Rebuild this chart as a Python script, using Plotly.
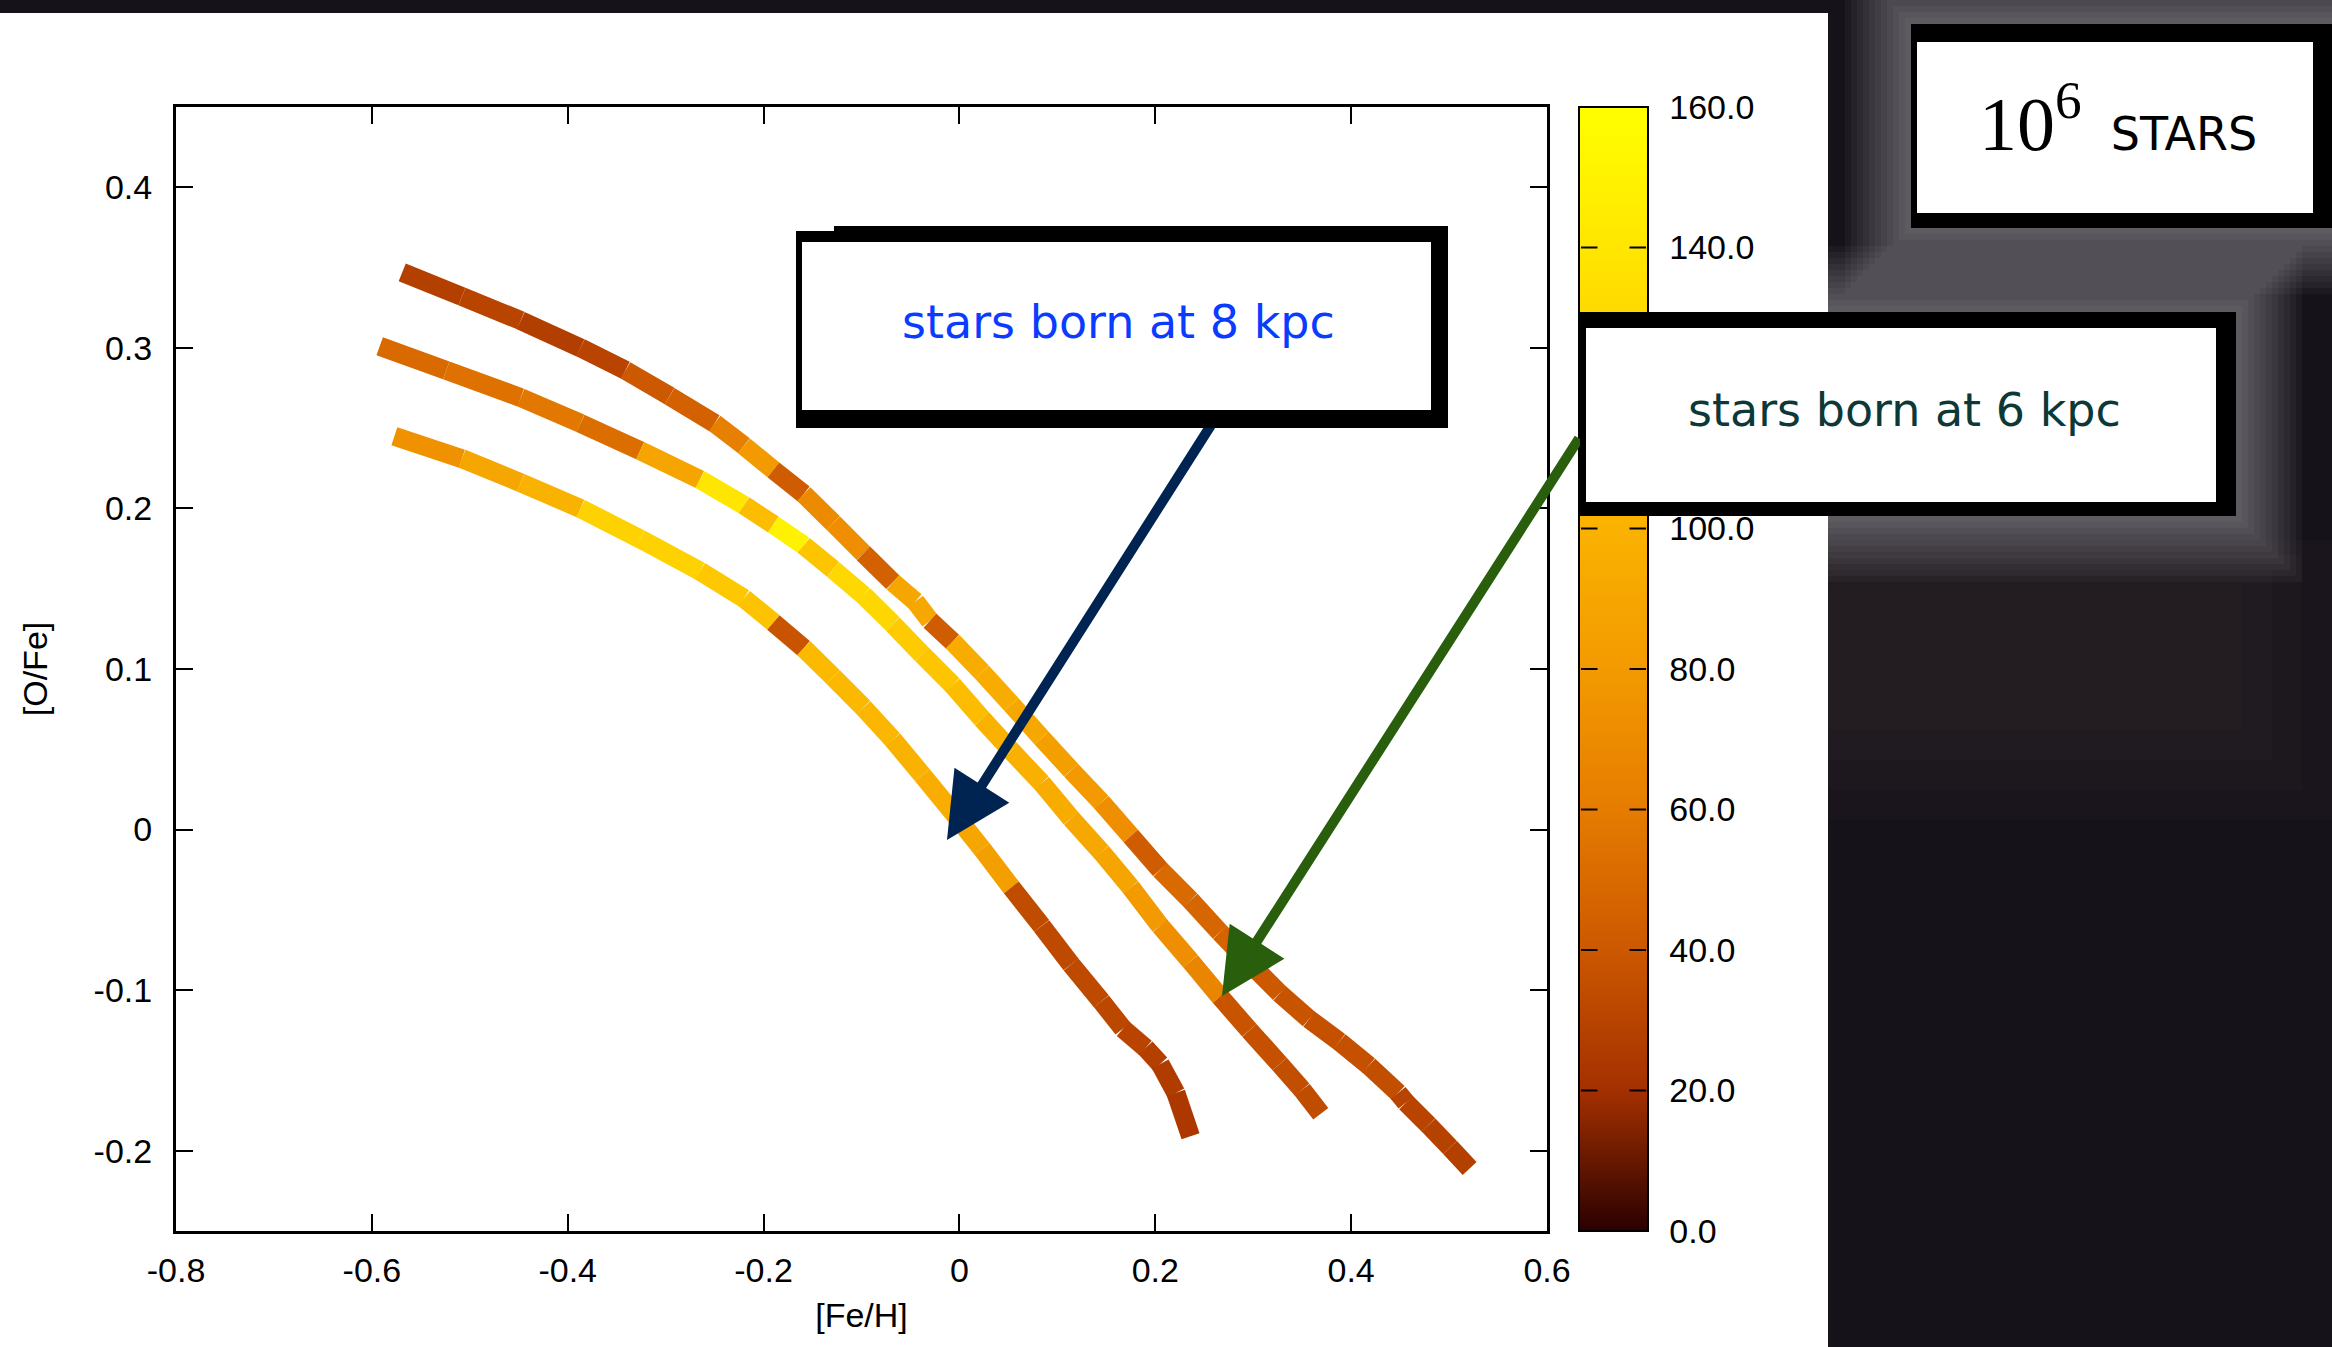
import plotly.graph_objects as go
from plotly.colors import sample_colorscale

# ---------------- data ----------------
top_feh = [-0.569, -0.508, -0.448, -0.387, -0.341, -0.296, -0.250, -0.220, -0.190, -0.159,
           -0.129, -0.098, -0.068, -0.045, -0.030, -0.007, 0.023, 0.053, 0.084, 0.114,
           0.145, 0.175, 0.205, 0.236, 0.266, 0.296, 0.327, 0.357, 0.388, 0.418,
           0.448, 0.456, 0.479, 0.501, 0.521]
top_ofe = [0.347, 0.332, 0.317, 0.300, 0.286, 0.270, 0.253, 0.239, 0.224, 0.209,
           0.191, 0.172, 0.154, 0.142, 0.130, 0.117, 0.098, 0.078, 0.057, 0.037,
           0.017, -0.004, -0.025, -0.044, -0.064, -0.083, -0.102, -0.118, -0.132, -0.147,
           -0.164, -0.170, -0.184, -0.198, -0.211]
top_val = [28, 30, 27, 30, 40, 45, 62, 80, 42, 70,
           72, 45, 90, 92, 42, 95, 95, 92, 84, 80,
           72, 42, 50, 48, 46, 40, 38, 36, 36, 35,
           30, 30, 29, 28, 28]

mid_feh = [-0.592, -0.524, -0.448, -0.387, -0.326, -0.265, -0.220, -0.190, -0.159, -0.129,
           -0.098, -0.068, -0.038, -0.007, 0.023, 0.053, 0.084, 0.114, 0.145, 0.175,
           0.205, 0.236, 0.266, 0.296, 0.327, 0.350, 0.369]
mid_ofe = [0.301, 0.286, 0.269, 0.253, 0.236, 0.218, 0.202, 0.190, 0.177, 0.162,
           0.146, 0.128, 0.109, 0.090, 0.069, 0.049, 0.029, 0.007, -0.014, -0.036,
           -0.060, -0.082, -0.104, -0.125, -0.146, -0.162, -0.177]
mid_val = [50, 54, 58, 52, 88, 140, 108, 150, 115, 130,
           128, 120, 115, 108, 100, 98, 95, 92, 88, 80,
           72, 66, 38, 36, 35, 34, 34]

bot_feh = [-0.577, -0.508, -0.448, -0.387, -0.326, -0.265, -0.220, -0.190, -0.159, -0.129,
           -0.098, -0.068, -0.038, -0.007, 0.023, 0.053, 0.084, 0.114, 0.145, 0.167,
           0.190, 0.205, 0.221, 0.236]
bot_ofe = [0.245, 0.231, 0.216, 0.200, 0.181, 0.161, 0.144, 0.129, 0.113, 0.095,
           0.076, 0.056, 0.034, 0.011, -0.012, -0.036, -0.060, -0.084, -0.107, -0.124,
           -0.136, -0.146, -0.164, -0.191]
bot_val = [75, 90, 100, 125, 125, 118, 114, 38, 106, 105,
           104, 100, 96, 90, 84, 34, 33, 33, 32, 30,
           28, 26, 24, 22]

x_ticks = [-0.8, -0.6, -0.4, -0.2, 0.0, 0.2, 0.4, 0.6]
x_ticklabels = ["-0.8", "-0.6", "-0.4", "-0.2", "0", "0.2", "0.4", "0.6"]
y_ticks = [-0.2, -0.1, 0.0, 0.1, 0.2, 0.3, 0.4]
y_ticklabels = ["-0.2", "-0.1", "0", "0.1", "0.2", "0.3", "0.4"]
cb_ticks = [0, 20, 40, 60, 80, 100, 120, 140, 160]
cb_ticklabels = ["0.0", "20.0", "40.0", "60.0", "80.0", "100.0", "120.0", "140.0", "160.0"]
VMIN, VMAX = 0, 160

label_8kpc = "stars born at 8 kpc"
label_6kpc = "stars born at 6 kpc"
label_stars = '<span style="font-family:Liberation Serif;font-size:76px">10<sup>6</sup></span>\u00a0\u00a0STARS'

# ---------------- layout helpers ----------------
W, H = 2332, 1347
ML, MR, MT, MB = 176, 785, 107, 116
PW = W - ML - MR
PH = H - MT - MB


def px(xp):
    return (xp - ML) / PW


def py(yp):
    return (H - MB - yp) / PH


CS = [[0.0, '#2a0000'], [0.125, '#a43000'], [0.25, '#cc5800'], [0.375, '#e67c00'],
      [0.5, '#f39a00'], [0.625, '#fab200'], [0.75, '#fecb00'], [0.875, '#ffe600'],
      [1.0, '#ffff00']]

TICKFONT = dict(family='Liberation Sans, Arial, sans-serif', size=34, color='black')

fig = go.Figure()

# colored segments
for xs, ys, vs in [(top_feh, top_ofe, top_val), (mid_feh, mid_ofe, mid_val), (bot_feh, bot_ofe, bot_val)]:
    cols = sample_colorscale(CS, [(v - VMIN) / (VMAX - VMIN) for v in vs])
    for i in range(len(xs) - 1):
        fig.add_trace(go.Scatter(x=[xs[i], xs[i + 1]], y=[ys[i], ys[i + 1]], mode='lines',
                                 line=dict(color=cols[i], width=19), showlegend=False,
                                 hoverinfo='skip'))

# invisible trace carrying the colorbar
fig.add_trace(go.Scatter(
    x=top_feh + mid_feh + bot_feh, y=top_ofe + mid_ofe + bot_ofe, mode='markers',
    marker=dict(size=1, opacity=0, color=top_val + mid_val + bot_val, colorscale=CS,
                cmin=VMIN, cmax=VMAX, showscale=True,
                colorbar=dict(x=px(1579), xanchor='left', y=0.5, yanchor='middle', len=1,
                              lenmode='fraction', thickness=69, thicknessmode='pixels',
                              xpad=0, ypad=0, outlinewidth=2, outlinecolor='black',
                              tickvals=cb_ticks, ticktext=cb_ticklabels, ticks='outside',
                              ticklen=14, tickwidth=1, tickcolor='rgba(0,0,0,0)',
                              tickfont=TICKFONT)),
    showlegend=False, hoverinfo='skip'))

shapes = []
# white page region
shapes.append(dict(type='rect', xref='paper', yref='paper', x0=px(0), x1=px(1828),
                   y0=py(1347), y1=py(13), fillcolor='white', line=dict(width=0), layer='below'))
# subtle nebula tone
for d in [0, 30, 60, 90]:
    shapes.append(dict(type='rect', xref='paper', yref='paper', x0=px(1828), x1=px(2332 - d),
                       y0=py(820 - d), y1=py(540 + d // 2), fillcolor='rgba(120,100,105,0.04)',
                       line=dict(width=0), layer='below'))
# soft glows around boxes in dark region
for (bx0, by0, bx1, by1) in [(1911, 24, 2340, 228), (1580, 312, 2236, 516)]:
    for d in range(66, 0, -6):
        shapes.append(dict(type='rect', xref='paper', yref='paper', x0=px(bx0 - d), x1=px(bx1 + d),
                           y0=py(by1 + d), y1=py(by0 - d), fillcolor='rgba(255,255,255,0.035)',
                           line=dict(width=0), layer='below'))

annotations = []
# arrows
annotations.append(dict(x=-0.0127, y=-0.0065, xref='x', yref='y', ax=266, ay=-418,
                        text='', showarrow=True, arrowhead=2, arrowsize=1.3, arrowwidth=10,
                        arrowcolor='#002452'))
annotations.append(dict(x=0.2681, y=-0.1036, xref='x', yref='y', ax=358, ay=-559,
                        text='', showarrow=True, arrowhead=2, arrowsize=1.3, arrowwidth=10,
                        arrowcolor='#285e0c'))
# inside ticks of the colorbar on both edges
for v in cb_ticks[1:-1]:
    annotations.append(dict(x=px(1581), y=(v - VMIN) / (VMAX - VMIN), xref='paper', yref='paper',
                            ax=18, ay=0, text='', showarrow=True, arrowhead=0, arrowwidth=2,
                            arrowcolor='black'))
    annotations.append(dict(x=px(1646), y=(v - VMIN) / (VMAX - VMIN), xref='paper', yref='paper',
                            ax=-18, ay=0, text='', showarrow=True, arrowhead=0, arrowwidth=2,
                            arrowcolor='black'))


def box(outer, inner, text, font, center, taper=False):
    ox0, oy0, ox1, oy1 = outer
    ix0, iy0, ix1, iy1 = inner
    annotations.append(dict(x=px(ox0), y=py(oy0), xref='paper', yref='paper', xanchor='left',
                            yanchor='top', width=ox1 - ox0, height=oy1 - oy0, text=' ',
                            bgcolor='black', borderpad=0, borderwidth=0, showarrow=False))
    if taper:
        # tapered left end of the top bar
        annotations.append(dict(x=px(ox0 - 2), y=py(oy0 - 2), xref='paper', yref='paper',
                                xanchor='left', yanchor='top', width=40, height=7, text=' ',
                                bgcolor='white', borderpad=0, borderwidth=0, showarrow=False))
    annotations.append(dict(x=px(ix0), y=py(iy0), xref='paper', yref='paper', xanchor='left',
                            yanchor='top', width=ix1 - ix0, height=iy1 - iy0, text=' ',
                            bgcolor='white', borderpad=0, borderwidth=0, showarrow=False))
    annotations.append(dict(x=px(center[0]), y=py(center[1]), xref='paper', yref='paper',
                            xanchor='center', yanchor='middle', text=text, font=font,
                            showarrow=False))


box((796, 226, 1448, 428), (802, 242, 1431, 410), label_8kpc,
    dict(family='DejaVu Sans', size=46, color='#0a3cff'), (1118, 322), taper=True)
box((1580, 312, 2236, 516), (1586, 328, 2216, 502), label_6kpc,
    dict(family='DejaVu Sans', size=46, color='#0c3838'), (1904, 410))
box((1911, 24, 2345, 228), (1917, 42, 2313, 213), label_stars,
    dict(family='DejaVu Sans', size=46, color='black'), (2118, 118))

fig.update_layout(
    width=W, height=H, margin=dict(l=ML, r=MR, t=MT, b=MB, autoexpand=False),
    paper_bgcolor='#16121a', plot_bgcolor='white',
    xaxis=dict(range=[-0.8, 0.6], tickvals=x_ticks, ticktext=x_ticklabels, ticks='inside',
               ticklen=17, tickwidth=2, tickcolor='black', showline=True, linewidth=3,
               linecolor='black', mirror='ticks', showgrid=False, zeroline=False,
               tickfont=TICKFONT, ticklabelstandoff=7, automargin=False,
               title=dict(text='[Fe/H]', font=TICKFONT, standoff=16)),
    yaxis=dict(range=[-0.25, 0.45], tickvals=y_ticks, ticktext=y_ticklabels, ticks='inside',
               ticklen=17, tickwidth=2, tickcolor='black', showline=True, linewidth=3,
               linecolor='black', mirror='ticks', showgrid=False, zeroline=False,
               tickfont=TICKFONT, ticklabelstandoff=14, automargin=False,
               title=dict(text='[O/Fe]', font=TICKFONT, standoff=36)),
    shapes=shapes, annotations=annotations, showlegend=False,
)

fig.write_html("out.html")
